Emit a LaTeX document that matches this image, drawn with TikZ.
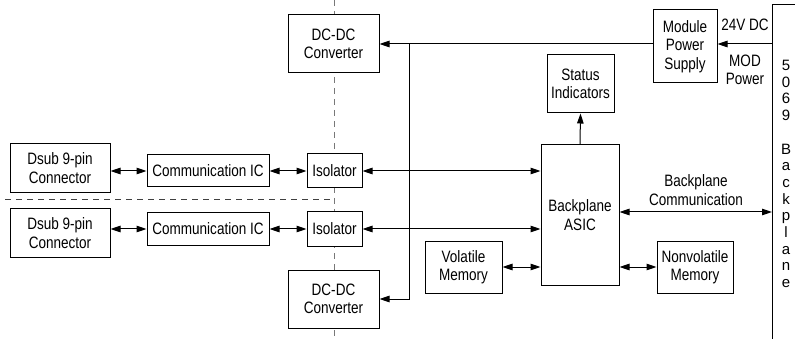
\documentclass[tikz,border=0pt]{standalone}
\usepackage{fontspec}
\setmainfont{Liberation Sans}[FakeStretch=0.82]
\newfontfamily\bpfont{Liberation Sans}
\usepackage{xcolor}
\usepackage{tikz}
\usetikzlibrary{arrows.meta,positioning,calc}
\definecolor{guidegray}{RGB}{120,120,120}

\begin{document}
\begin{tikzpicture}[
    x=1pt, y=-1pt,
    line width=1pt,
    every node/.style={font=\fontsize{16.5}{18.5}\selectfont},
    box/.style={draw, fill=white, inner sep=2pt, align=center},
    arr/.style={-{Triangle[length=10pt,width=6.5pt]}},
    biarr/.style={{Triangle[length=10pt,width=6.5pt]}-{Triangle[length=10pt,width=6.5pt]}},
    lbl/.style={align=center, inner sep=0pt}
]
\useasboundingbox (0,0) rectangle (795,339);

% isolation barrier
\draw[guidegray, dashed, dash pattern=on 6pt off 5pt] (334,0) -- (334,339);
\draw[black!75, dashed, dash pattern=on 6pt off 5pt] (5,200) -- (334,200);

% backplane edge
\draw (772,339) -- (772,5) -- (795,5);
\coordinate (bpP) at (772,44);
\coordinate (bpC) at (772,212);
\node[lbl, font=\bpfont\fontsize{15}{16.7}\selectfont] (bp) at (786,174) {5\\0\\6\\9\\[16.7pt]B\\a\\c\\k\\p\\l\\a\\n\\e};

% blocks
\node[box, minimum width=91pt, minimum height=58pt] (dcT) at (333.5,44) {DC-DC\\Converter};
\node[box, minimum width=91pt, minimum height=58pt] (dcB) at (333.5,299) {DC-DC\\Converter};
\node[box, minimum width=64pt, minimum height=73pt] (mps) at (685,46.5) {Module\\Power\\Supply};
\node[box, minimum width=67pt, minimum height=58pt] (stat) at (580.5,84) {Status\\Indicators};
\node[box, minimum width=78pt, minimum height=140pt] (asic) at (580,215) {Backplane\\ASIC};
\node[box, minimum width=55pt, minimum height=34pt] (isoT) at (334.5,171) {Isolator};
\node[box, minimum width=55pt, minimum height=34pt] (isoB) at (334.5,229) {Isolator};
\node[box, minimum width=122pt, minimum height=32pt] (comT) at (208,171) {Communication IC};
\node[box, minimum width=122pt, minimum height=32pt] (comB) at (208,229) {Communication IC};
\node[box, minimum width=100pt, minimum height=49pt] (dsT) at (60,168) {Dsub 9-pin\\Connector};
\node[box, minimum width=100pt, minimum height=49pt] (dsB) at (60,233) {Dsub 9-pin\\Connector};
\node[box, minimum width=77pt, minimum height=52pt] (vol) at (463.5,267) {Volatile\\Memory};
\node[box, minimum width=76pt, minimum height=52pt] (nvol) at (695,267) {Nonvolatile\\Memory};

% power
\node[lbl] (v24) at (745,25) {24V DC};
\node[lbl] (mod) at (745,70) {MOD\\Power};
\draw[arr] (bpP) -- (mps.east |- bpP);
\draw[arr] (mps.west |- dcT.east) -- (dcT.east);
\coordinate (jn) at (409,44);
\draw[arr] (jn) |- (dcB.east);

% data paths
\draw[biarr] (dsT.east |- comT.west) -- (comT.west);
\draw[biarr] (comT.east) -- (isoT.west);
\draw[biarr] (isoT.east) -- (isoT.east -| asic.west);
\draw[biarr] (dsB.east |- comB.west) -- (comB.west);
\draw[biarr] (comB.east) -- (isoB.west);
\draw[biarr] (isoB.east) -- (isoB.east -| asic.west);
\draw[arr] (asic.north) -- (stat.south);
\draw[biarr] (vol.east) -- (vol.east -| asic.west);
\draw[biarr] (nvol.west -| asic.east) -- (nvol.west);
\draw[biarr] (asic.east |- bpC) -- (bpC);
\node[lbl] (bpcom) at (696,190) {Backplane\\Communication};
\end{tikzpicture}
\end{document}
